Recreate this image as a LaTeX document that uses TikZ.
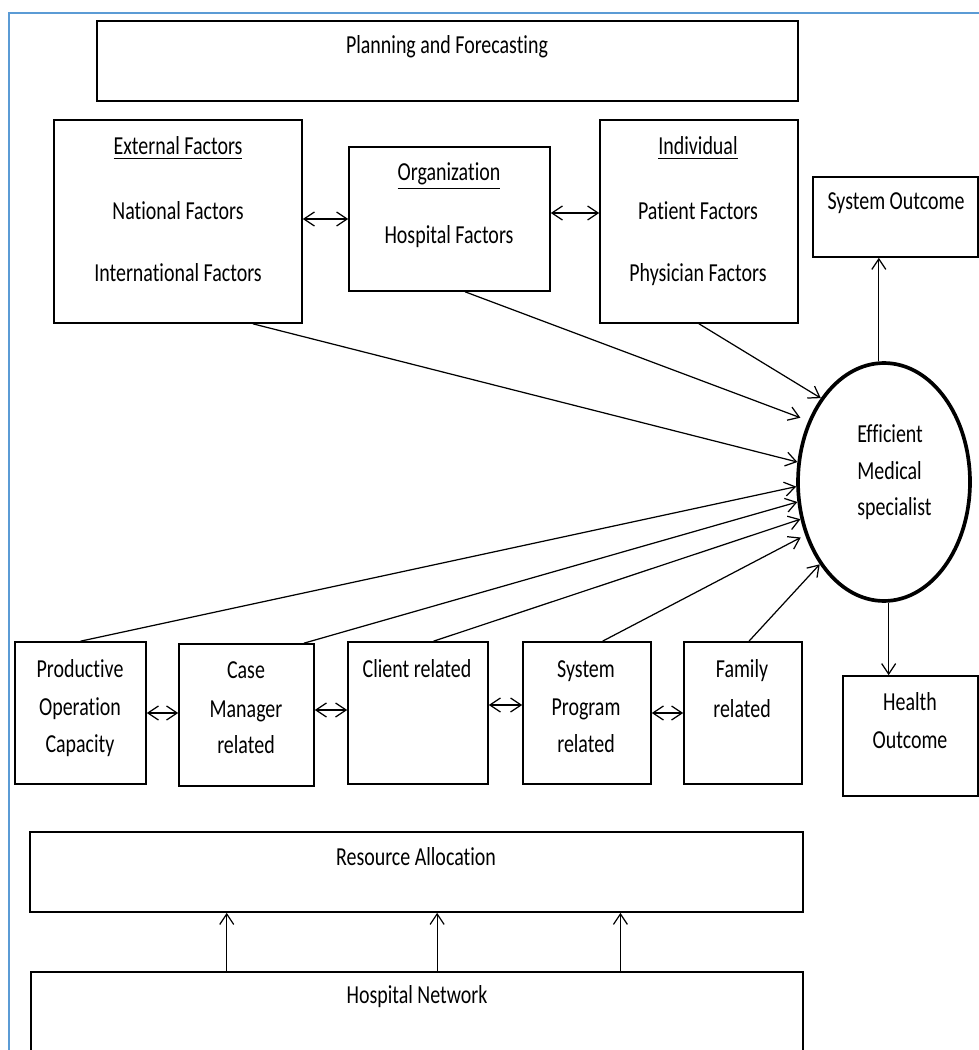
\documentclass[tikz,border=0pt]{standalone}
\usepackage{fontspec}
\setmainfont{Carlito}[Ligatures={NoCommon,NoRequired}]
\usetikzlibrary{arrows.meta,calc,shapes.geometric}
\definecolor{framebl}{RGB}{91,155,213}
\newcommand{\vs}[1]{\scalebox{1}[1.3]{#1}}
\begin{document}
\begin{tikzpicture}[x=0.02cm,y=-0.02cm,
  >={Straight Barb[length=2.1mm,width=2.8mm]},
  box/.style={draw, rectangle, line width=0.95pt, inner sep=0pt},
  ellbox/.style={draw, ellipse, line width=2.1pt, inner sep=0pt},
  txt/.style={anchor=base, inner sep=0pt, font=\fontsize{11.35}{13}\selectfont},
  arr/.style={->, line width=0.7pt},
  dbl/.style={<->, line width=0.7pt},
  frameline/.style={draw=framebl, line width=1.1pt}]
\useasboundingbox (0,0) rectangle (979,1050);
\clip (0,0) rectangle (979,1050);
\fill[white] (0,0) rectangle (979,1050);
\draw[frameline] (9,1060) -- (9,13) -- (990,13);

% boxes
\node[box, minimum width=14.02cm, minimum height=1.6cm] (pf) at (447.5,61) {};
\node[box, minimum width=4.96cm, minimum height=4.06cm] (ext) at (178,221.5) {};
\node[box, minimum width=4.02cm, minimum height=2.88cm] (org) at (449.5,219) {};
\node[box, minimum width=3.96cm, minimum height=4.06cm] (ind) at (699,221.5) {};
\node[box, minimum width=3.30cm, minimum height=1.6cm] (sys) at (895.5,217) {};
\node[ellbox, minimum width=3.44cm, minimum height=4.76cm] (ell) at (884,482) {};
\node[box, minimum width=2.70cm, minimum height=2.4cm] (hlt) at (910.5,736) {};
\node[box, minimum width=2.62cm, minimum height=2.84cm] (poc) at (80.5,713) {};
\node[box, minimum width=2.70cm, minimum height=2.84cm] (cm) at (246.5,715) {};
\node[box, minimum width=2.80cm, minimum height=2.84cm] (cli) at (418,713) {};
\node[box, minimum width=2.56cm, minimum height=2.84cm] (spr) at (587,713) {};
\node[box, minimum width=2.36cm, minimum height=2.84cm] (fam) at (743,713) {};
\node[box, minimum width=15.46cm, minimum height=1.6cm] (res) at (416.5,872) {};
\node[box, minimum width=15.44cm, minimum height=1.76cm] (hn) at (417,1016) {};

% texts
\node[txt] (pft) at (447,54) {\vs{Planning and Forecasting}};
\node[txt] (ext1) at (178,155) {\vs{\underline{External Factors}}};
\node[txt] (ext2) at (178,220) {\vs{National Factors}};
\node[txt] (ext3) at (178,282) {\vs{International Factors}};
\node[txt] (org1) at (449,181) {\vs{\underline{Organization}}};
\node[txt] (org2) at (449,244) {\vs{Hospital Factors}};
\node[txt] (ind1) at (698,155) {\vs{\underline{Individual}}};
\node[txt] (ind2) at (698,220) {\vs{Patient Factors}};
\node[txt] (ind3) at (698,282) {\vs{Physician Factors}};
\node[txt] (syst) at (896,210) {\vs{System Outcome}};
\node[txt, anchor=base west] (ell1) at (857,442) {\vs{Efficient}};
\node[txt, anchor=base west] (ell2) at (857,479) {\vs{Medical}};
\node[txt, anchor=base west] (ell3) at (857,515) {\vs{specialist}};
\node[txt] (hlt1) at (910,710) {\vs{Health}};
\node[txt] (hlt2) at (910,748) {\vs{Outcome}};
\node[txt] (poc1) at (80,677) {\vs{Productive}};
\node[txt] (poc2) at (80,715) {\vs{Operation}};
\node[txt] (poc3) at (80,752) {\vs{Capacity}};
\node[txt] (cm1) at (246,678) {\vs{Case}};
\node[txt] (cm2) at (246,717) {\vs{Manager}};
\node[txt] (cm3) at (246,753) {\vs{related}};
\node[txt] (cli1) at (417,677) {\vs{Client related}};
\node[txt] (spr1) at (586,677) {\vs{System}};
\node[txt] (spr2) at (586,715) {\vs{Program}};
\node[txt] (spr3) at (586,752) {\vs{related}};
\node[txt] (fam1) at (742,677) {\vs{Family}};
\node[txt] (fam2) at (742,717) {\vs{related}};
\node[txt] (rest) at (416,865) {\vs{Resource Allocation}};
\node[txt] (hnt) at (417,1003) {\vs{Hospital Network}};

% double arrows
\draw[dbl] (org.west -| ext.east) -- (org.west);
\draw[dbl] ([yshift=0.12cm]org.east) -- ([yshift=0.12cm]org.east -| ind.west);
\draw[dbl] (poc.east) -- (poc.east -| cm.west);
\draw[dbl] ([yshift=0.1cm]cm.east) -- ([yshift=0.1cm]cm.east -| cli.west);
\draw[dbl] ([yshift=0.16cm]cli.east) -- ([yshift=0.16cm]cli.east -| spr.west);
\draw[dbl] (spr.east) -- (spr.east -| fam.west);

% arrows into the ellipse
\draw[arr] ($(ext.south west)!0.8!(ext.south east)$) -- (ell.167.7);
\draw[arr, shorten >=0.17cm] ($(org.south west)!0.577!(org.south east)$) -- (ell.141.3);
\draw[arr] (ind.south) -- (ell.127);
\draw[arr] (poc.north) -- (ell.183.3);
\draw[arr] ($(cm.north west)!0.92!(cm.north east)$) -- (ell.193.6);
\draw[arr] ($(cli.north west)!0.61!(cli.north east)$) -- (ell.204);
\draw[arr, shorten >=0.1cm] ($(spr.north west)!0.62!(spr.north east)$) -- (ell.214.7);
\draw[arr] ($(fam.north west)!0.55!(fam.north east)$) -- (ell.232.6);

% outcomes
\coordinate (sysin) at ($(sys.south west)!0.4!(sys.south east)$);
\draw[arr] (sysin |- ell.north) -- (sysin);
\coordinate (hltin) at ($(hlt.north west)!0.34!(hlt.north east)$);
\draw[arr] (hltin |- ell.south) -- (hltin);

% hospital network to resource allocation
\coordinate (hn1) at ($(hn.north west)!0.254!(hn.north east)$);
\coordinate (hn2) at ($(hn.north west)!0.526!(hn.north east)$);
\coordinate (hn3) at ($(hn.north west)!0.763!(hn.north east)$);
\draw[arr] (hn1) -- (hn1 |- res.south);
\draw[arr] (hn2) -- (hn2 |- res.south);
\draw[arr] (hn3) -- (hn3 |- res.south);
\end{tikzpicture}
\end{document}
